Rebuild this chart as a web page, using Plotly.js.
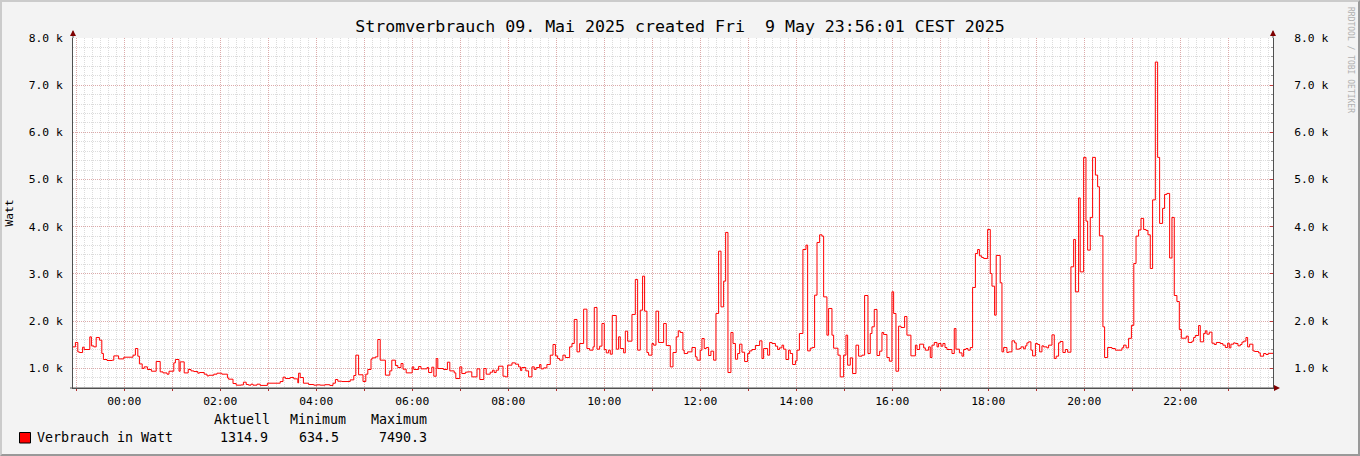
<!DOCTYPE html>
<html><head><meta charset="utf-8">
<script src="https://cdn.plot.ly/plotly-3.0.1.min.js"></script>
<style>
html,body{margin:0;padding:0;background:#f3f3f3;}
#wrap{position:relative;width:1360px;height:456px;overflow:hidden;}
#chart{width:1360px;height:456px;}
#frame{position:absolute;left:0;top:0;width:1360px;height:456px;box-sizing:border-box;border-top:2px solid #cbcbcb;border-left:2px solid #cbcbcb;border-bottom:2px solid #999;border-right:2px solid #999;pointer-events:none;}
</style></head><body>
<div id="wrap"><div id="chart"></div><div id="frame"></div></div>
<script>
// sample start times, minutes relative to 2025-05-09 00:00
const minutes = [
-64,-61,-58,-56,-52,-50,-43,-41,-38,-35,
-31,-28,-26,-21.5,-15,-13,-7,-0.5,11,14,
17,19,22.5,25,29,34,40,45,48.5,53.5,
56,62,64,68.5,70,75,80,83.5,87,92,
94,100,103.5,106,112,116,122,129,130.5,136,
140,146,149,152.5,155.5,158.5,161,166,170,179,
195,198.5,201.5,207.5,212,217,218,220,224,230.5,
237,241,245,251,257,261,264,267,272,282.5,
287,289.5,293,298.5,302,304.5,308.5,310,314,317,
320,326.5,332,334.5,339,342,346,348.5,352.5,360,
362,368,371,378.5,380.5,384.5,387,390,392,399,
404,407,412.5,414.5,419.5,422,426.5,429,434.5,441,
444.5,449.5,452.5,457.5,460.5,462.5,465,468,473.5,476.5,
479.3,484.7,489,493,495.5,497,502,505.5,509.7,512.6,
515,519.3,521,524.3,528.4,532.6,536,539,541.8,544.3,
548.4,551.4,556.8,559.7,562.6,566,569.3,574.3,578.4,581.8,
586,587.6,591,594.3,597.2,600.1,602.6,605.5,607.6,610.1,
615.1,618,620.1,624.3,626.4,629.3,634.7,638.9,641.8,645.1,
648,650.5,653.4,655.5,659.7,661.8,664.7,668,674.3,677.6,
682.6,686,690,692.6,695,698.4,700,704.3,709.7,714,
716,720,722.2,725,727.6,730.5,733.4,736.8,739.7,743,
746,749.3,751.8,754.7,758.4,761,764,766.8,769.3,772.2,
775.5,779.3,781.8,784.7,789,794.3,797.2,799.3,804.3,806.8,
809.7,814,816.8,819,822.2,824.3,827.2,830.5,832.6,835.5,
839,841,844,848.4,852.2,854.3,857.6,860,863,866,
869.3,872.2,874.3,878.4,880.5,884.7,886.8,892.2,895,899.3,
902.2,904.3,907.6,910.5,914.7,918,922.2,925.5,929.7,932.6,
934.7,937.6,941,944.3,947.2,949.3,953.4,956.4,959.7,961.8,
964.7,968,971,975.5,978.4,983.4,989,991,994.3,999.3,
1001.4,1005.5,1007.6,1009.7,1012.6,1016,1018,1021,1023.4,1026,
1028.4,1034.7,1037.6,1039.7,1044,1047.2,1049.3,1052.2,1054.7,1057.6,
1060.5,1064,1066.8,1069,1071.8,1074.3,1079.3,1082.6,1084.7,1088,
1090,1095,1097.2,1099.3,1103.4,1105.5,1109.7,1113,1115,1119,
1121,1124.3,1126.4,1128.4,1130.5,1133.4,1135.5,1139,1141.8,1144.3,
1147.2,1149.3,1153.4,1155.5,1159.7,1162.6,1165,1168,1170,1173.4,
1176.4,1179.3,1183.4,1186.8,1189,1193,1195,1199.3,1202.2,1204.3,
1207.6,1210.5,1214,1216.8,1219,1223.4,1225.5,1229.3,1234.7,1238.9,
1247.2,1249.3,1252.4,1255.5,1259,1262,1264.8,1268,1271,1274.3,
1277.2,1279.7,1282.6,1285.5,1288.9,1291.8,1294.3,1298,1300.5,1303.4,
1306.8,1309.7,1312.6,1315.9,1318.9,1321.4,1327.6,1330.1,1334.7,1336.8,
1338.9,1343,1345.1,1349.3,1351.4,1353.4,1356.4,1359.7,1362.6,1365.1,
1370.1,1373.4,1376.4,1379.3,1381.4,1383.4,1386.8,1388.9,1392.2,1395.1,
1397.2,1399.3,1402.2,1404.3,1406.8,1410.9,1413,1418,1420.1,1424.3,
1427.2,1430,1436
];
// power in Watt
const watt = [
1452,1545,1346,1332,1445,1396,1664,1473,1452,1651,
1594,1312,1184,1163,1170,1261,1197,1233,1276,1417,
1254,1091,994,1028,972,936,1142,922,900,873,
936,1113,1184,936,1134,900,972,943,929,894,
908,873,837,850,873,894,873,795,767,675,
640,645,703,654,640,661,640,661,635,682,
717,809,781,802,774,689,894,802,682,654,
640,647,640,650,634.5,682,760,724,717,752,
845,1276,860,717,873,972,1191,1219,1240,1608,
1170,852,943,1170,1057,1014,1099,979,901,1028,
972,1035,986,1014,908,1021,830,1205,993,972,
1127,943,901,781,1028,887,915,922,816,986,
760,993,873,915,958,908,958,1042,830,816,
1064,1113,1085,1028,950,1014,943,816,1028,972,
1014,1078,986,1007,1078,1276,1502,1261,1205,1170,
1276,1226,1452,1523,2033,1346,1523,2251,1417,1382,
1452,2287,1403,1467,1947,1396,1325,1382,1297,2117,
1403,1665,1417,1325,1785,1573,2139,2881,1382,2230,
2951,2209,1332,1276,1523,1488,2209,1545,1947,1480,
1028,1332,1664,1792,1757,1382,1311,1346,1438,1240,
1170,1382,1629,1417,1438,1269,1361,1170,2160,3481,
2300,2845,3878,908,1757,1524,1191,1311,1509,1339,
1141,1311,1367,1396,1481,1580,1205,1417,1276,1545,
1524,1467,1396,1431,1488,1403,1184,1382,1311,1078,
1155,1382,1735,3516,3609,1367,1424,1438,2548,3665,
3828,3800,2512,1700,2266,1700,1424,1276,816,1276,
1700,1064,1219,887,1488,1255,1276,2541,1311,1735,
1877,2245,1269,1361,1757,1714,1226,1149,2619,2160,
936,1891,1863,2096,1700,1262,1488,1396,1509,1431,
1382,1452,1226,1488,1545,1452,1524,1467,1524,1438,
1396,1311,1841,1403,1325,1255,1396,1417,1382,1438,
2711,3432,3516,3382,3347,3326,3941,3008,2739,2124,
3390,2810,1346,1438,1332,1346,1580,1537,1403,1417,
1452,1410,1474,1537,1559,1382,1261,1523,1502,1346,
1474,1452,1431,1488,1707,1205,1255,1537,1566,1332,
1396,1339,3149,3729,2619,4610,3042,5469,4118,3503,
4196,5469,5094,4846,3806,1877,1226,1438,1417,1382,
1431,1488,1431,1633,1908,3220,3800,3930,4175,3941,
3920,3828,3113,4568,7490.3,5469,4069,4387,4684,4705,
3336,4196,2541,2414,1820,1636,1679,1545,1573,1651,
1693,1905,1559,1735,1792,1721,1764,1530,1502,1545,
1523,1488,1438,1530,1431,1509,1537,1523,1474,1502,
1552,1573,1651,1452,1509,1367,1354,1325,1255,1311,
1290,1314.9,1314.9
];
const xTickLabels = ['00:00','02:00','04:00','06:00','08:00','10:00','12:00','14:00','16:00','18:00','20:00','22:00'];
const yTickValues = [1000,2000,3000,4000,5000,6000,7000,8000];
const yTickLabels = ['1.0 k','2.0 k','3.0 k','4.0 k','5.0 k','6.0 k','7.0 k','8.0 k'];
const seriesName = 'Verbrauch in Watt';
const legendHeaders = ['Aktuell','Minimum','Maximum'];
const chartTitle = 'Stromverbrauch 09. Mai 2025 created Fri  9 May 23:56:01 CEST 2025';

const BASE = Date.UTC(2025,4,9,0,0,0);
function toDate(m){ return new Date(BASE + m*60000).toISOString().replace('T',' ').slice(0,19); }
const xs = minutes.map(toDate);
const xRange = ['2025-05-08 22:56:00','2025-05-09 23:56:00'];

// hourly grid / tick positions, labels every 2 hours
const hourVals = [], hourText = [];
for (let h = -1; h <= 23; h++) {
  hourVals.push(toDate(h*60));
  const lbl = (h >= 0 && h % 2 === 0) ? xTickLabels[h/2] : '';
  hourText.push(lbl);
}

const MONO = 'DejaVu Sans Mono';
const L = 73, T = 38, W = 1200, H = 350;
const fx = x => (x - L) / W;
const fy = y => (T + H - y) / H;

const aktuell = watt[watt.length-1];
const minimum = Math.min(...watt);
const maximum = Math.max(...watt);

const traces = [
  {x: xs, y: watt, type: 'scatter', mode: 'lines', line: {color: '#ff0000', width: 1, shape: 'hv'}, hoverinfo: 'skip', showlegend: false},
  {x: [xs[0]], y: [watt[0]], type: 'scatter', mode: 'lines', yaxis: 'y2', line: {color: 'rgba(0,0,0,0)', width: 0}, hoverinfo: 'skip', showlegend: false}
];

const majorGrid = 'rgba(220,90,90,0.38)';
const minorGrid = 'rgba(140,140,140,0.30)';
const axisCol = '#505050';
const arrowCol = '#7f0000';

const yRange = [580, 8000];
const layout = {
  width: 1360, height: 456,
  margin: {l: L, r: 1360 - L - W, t: T, b: 456 - T - H, pad: 0},
  paper_bgcolor: '#f3f3f3', plot_bgcolor: '#ffffff',
  showlegend: false,
  title: {text: chartTitle, font: {family: MONO, size: 16.6, color: '#000'}, xref: 'container', x: 0.5, xanchor: 'center', yref: 'container', y: 1 - 26/456, yanchor: 'middle'},
  xaxis: {
    type: 'date', range: xRange, tickmode: 'array', tickvals: hourVals, ticktext: hourText,
    showgrid: true, gridcolor: majorGrid, griddash: '1px,1px', gridwidth: 1,
    minor: {tickmode: 'linear', tick0: '2025-05-09 00:00:00', dtick: 600000, showgrid: true, gridcolor: minorGrid, griddash: '1px,1px', gridwidth: 1, ticks: ''},
    ticks: 'outside', ticklen: 2, tickcolor: '#b03030', tickwidth: 1,
    tickfont: {family: MONO, size: 11.3, color: '#000'},
    showline: true, linecolor: axisCol, linewidth: 1, zeroline: false, fixedrange: true
  },
  yaxis: {
    range: yRange, tickmode: 'array', tickvals: yTickValues, ticktext: yTickLabels,
    showgrid: true, gridcolor: majorGrid, griddash: '1px,1px', gridwidth: 1,
    minor: {tickmode: 'linear', tick0: 0, dtick: 200, showgrid: true, gridcolor: minorGrid, griddash: '1px,1px', gridwidth: 1, ticks: ''},
    ticks: '', ticklabelstandoff: 7,
    tickfont: {family: MONO, size: 11.3, color: '#000'},
    showline: true, linecolor: axisCol, linewidth: 1, zeroline: false, fixedrange: true,
    title: {text: 'Watt', font: {family: MONO, size: 11.3, color: '#000'}, standoff: 12}
  },
  yaxis2: {
    overlaying: 'y', side: 'right', range: yRange, tickmode: 'array', tickvals: yTickValues, ticktext: yTickLabels,
    showgrid: false, zeroline: false, showline: true, linecolor: axisCol, linewidth: 1,
    ticks: 'inside', ticklen: 3, tickcolor: '#c04040',
    minor: {tickmode: 'linear', tick0: 0, dtick: 200, ticks: 'inside', ticklen: 2, tickcolor: '#999', showgrid: false},
    ticklabelstandoff: 18,
    tickfont: {family: MONO, size: 11.3, color: '#000'}, fixedrange: true
  },
  shapes: [
    {type: 'line', xref: 'paper', yref: 'paper', x0: 0, x1: 0, y0: 1, y1: fy(31), line: {color: axisCol, width: 1}},
    {type: 'path', xref: 'paper', yref: 'paper', path: `M ${fx(L-3)} ${fy(36)} L ${fx(L+3)} ${fy(36)} L ${fx(L)} ${fy(30)} Z`, fillcolor: arrowCol, line: {width: 0}},
    {type: 'line', xref: 'paper', yref: 'paper', x0: 1, x1: 1, y0: 1, y1: fy(31), line: {color: axisCol, width: 1}},
    {type: 'path', xref: 'paper', yref: 'paper', path: `M ${fx(L+W-3)} ${fy(36)} L ${fx(L+W+3)} ${fy(36)} L ${fx(L+W)} ${fy(30)} Z`, fillcolor: arrowCol, line: {width: 0}},
    {type: 'line', xref: 'paper', yref: 'paper', x0: fx(L-3), x1: fx(L+W+4), y0: 0, y1: 0, line: {color: axisCol, width: 1}},
    {type: 'path', xref: 'paper', yref: 'paper', path: `M ${fx(L+W+1)} ${fy(T+H-3)} L ${fx(L+W+1)} ${fy(T+H+3)} L ${fx(L+W+7)} ${fy(T+H)} Z`, fillcolor: arrowCol, line: {width: 0}},
    {type: 'rect', xref: 'paper', yref: 'paper', x0: fx(19.5), x1: fx(30.5), y0: fy(443), y1: fy(432.5), fillcolor: '#ff0000', line: {color: '#000', width: 1}}
  ],
  annotations: [
    {xref: 'paper', yref: 'paper', x: fx(272), y: fy(419), xanchor: 'right', yanchor: 'middle', text: legendHeaders[0], showarrow: false, font: {family: MONO, size: 13.3, color: '#000'}},
    {xref: 'paper', yref: 'paper', x: fx(348), y: fy(419), xanchor: 'right', yanchor: 'middle', text: legendHeaders[1], showarrow: false, font: {family: MONO, size: 13.3, color: '#000'}},
    {xref: 'paper', yref: 'paper', x: fx(429), y: fy(419), xanchor: 'right', yanchor: 'middle', text: legendHeaders[2], showarrow: false, font: {family: MONO, size: 13.3, color: '#000'}},
    {xref: 'paper', yref: 'paper', x: fx(35), y: fy(437.5), xanchor: 'left', yanchor: 'middle', text: seriesName, showarrow: false, font: {family: MONO, size: 13.3, color: '#000'}},
    {xref: 'paper', yref: 'paper', x: fx(270), y: fy(437.5), xanchor: 'right', yanchor: 'middle', text: aktuell.toFixed(1), showarrow: false, font: {family: MONO, size: 13.3, color: '#000'}},
    {xref: 'paper', yref: 'paper', x: fx(341), y: fy(437.5), xanchor: 'right', yanchor: 'middle', text: minimum.toFixed(1), showarrow: false, font: {family: MONO, size: 13.3, color: '#000'}},
    {xref: 'paper', yref: 'paper', x: fx(429), y: fy(437.5), xanchor: 'right', yanchor: 'middle', text: maximum.toFixed(1), showarrow: false, font: {family: MONO, size: 13.3, color: '#000'}},
    {xref: 'paper', yref: 'paper', x: fx(1350), y: fy(60), xanchor: 'center', yanchor: 'middle', textangle: 90, text: 'RRDTOOL / TOBI OETIKER', showarrow: false, font: {family: MONO, size: 8, color: '#b0b0b0'}}
  ]
};

Plotly.newPlot('chart', traces, layout, {staticPlot: true, displayModeBar: false});
</script>
</body></html>
